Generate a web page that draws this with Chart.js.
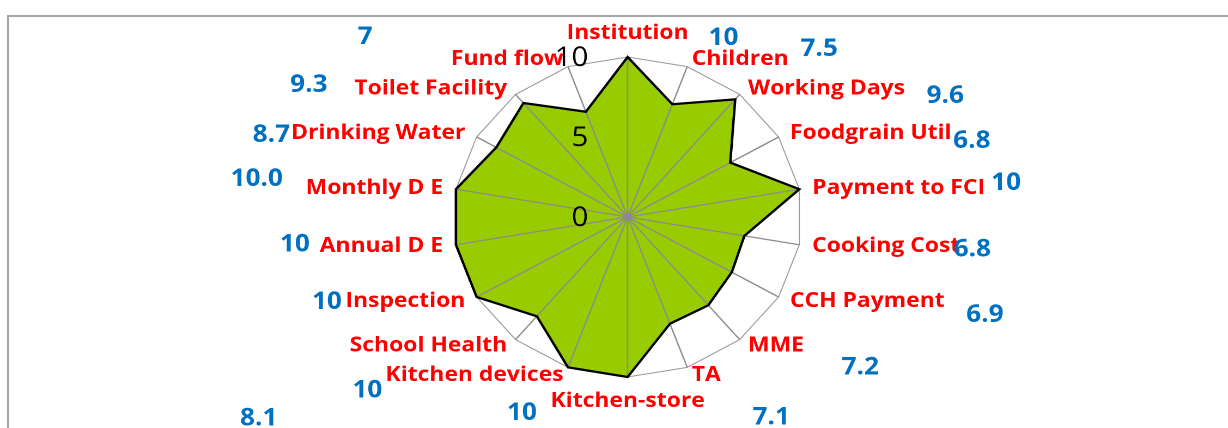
<!DOCTYPE html>
<html>
<head>
<meta charset="utf-8">
<script src="https://cdn.jsdelivr.net/npm/chart.js@4"></script>
<style>
  html, body { margin: 0; padding: 0; background: #fff; overflow: hidden; }
  #frame {
    position: absolute; left: 7px; top: 15px; width: 1300px; height: 500px;
    border-top: 2px solid #a6a6a6; border-left: 2px solid #a6a6a6;
  }
  /* the reference is a little wider than tall, so the chart is stretched sideways */
  #wrap {
    position: absolute; left: 0; top: 0; width: 1127px; height: 428px;
    transform: scaleX(1.0896); transform-origin: 0 0;
  }
</style>
</head>
<body>
<div id="frame"></div>
<div id="wrap"><canvas id="radar"></canvas></div>
<script>
// categories, clockwise from the top
const categories = [
  "Institution", "Children", "Working Days", "Foodgrain Util", "Payment to FCI",
  "Cooking Cost", "CCH Payment", "MME", "TA", "Kitchen-store",
  "Kitchen devices", "School Health", "Inspection", "Annual D E", "Monthly D E",
  "Drinking Water", "Toilet Facility", "Fund flow"
];

// scores
const scores = [10, 7.5, 9.6, 6.8, 10, 6.8, 6.9, 7.2, 7.1, 10, 10, 8.1, 10, 10, 10, 8.7, 9.3, 7];

// blue numbers as printed next to the labels
const scoreLabels = ["10", "7.5", "9.6", "6.8", "10", "6.8", "6.9", "7.2", "7.1", "10",
                     "10", "8.1", "10", "10", "10.0", "8.7", "9.3", "7"];

// radial tick labels
const tickValues = [0, 5, 10];

// where each blue number sits relative to its category label anchor
const scoreLabelOffsets = [
  [88, -7], [117, -6], [181, 11], [167, 10], [178, -4], [147, 3], [179, 12], [103, 19], [73, 39],
  [-97, 24], [-180, 12], [-228, 70], [-127, -1], [-136, -2], [-171, -8], [-178, 4], [-182, 0], [-182, -18]
];

const LABEL_PAD = 12;

const radarDecor = {
  id: "radarDecor",
  // spokes go over the green fill but under the black outline
  afterDatasetDraw(chart, args) {
    if (args.index !== 1) return;
    const r = chart.scales.r;
    const ctx = chart.ctx;
    const outer = r.getDistanceFromCenterForValue(r.max);
    ctx.save();
    ctx.strokeStyle = "#8c8c8c";
    ctx.lineWidth = 1.3;
    categories.forEach((c, i) => {
      const p = r.getPointPosition(i, outer);
      ctx.beginPath();
      ctx.moveTo(r.xCenter, r.yCenter);
      ctx.lineTo(p.x, p.y);
      ctx.stroke();
    });
    ctx.restore();
  },
  afterDraw(chart) {
    const r = chart.scales.r;
    const ctx = chart.ctx;
    ctx.save();
    ctx.textBaseline = "middle";

    // tick labels left of the vertical spoke
    ctx.font = '27px "Open Sans"';
    ctx.fillStyle = "#000";
    ctx.textAlign = "right";
    tickValues.forEach(v => {
      const d = r.getDistanceFromCenterForValue(v);
      ctx.fillText(String(v), r.xCenter - 36, r.yCenter - d + 1.5);
    });

    // category labels + blue scores
    const dist = r.getDistanceFromCenterForValue(r.max) + LABEL_PAD;
    categories.forEach((name, i) => {
      const p = r.getPointPosition(i, dist);
      const deg = i * 360 / categories.length;
      let y = p.y;
      if (deg === 0) y -= 12;
      else if (deg === 180) y += 12;
      else y += 4 * Math.cos(deg * Math.PI / 180);
      ctx.font = 'bold 21px "Open Sans"';
      ctx.fillStyle = "#ff0000";
      ctx.textAlign = (deg === 0 || deg === 180) ? "center" : (deg < 180 ? "left" : "right");
      ctx.fillText(name, p.x, y);

      const [dx, dy] = scoreLabelOffsets[i];
      ctx.font = 'bold 24px "Open Sans"';
      ctx.fillStyle = "#0070c0";
      ctx.textAlign = "center";
      ctx.fillText(scoreLabels[i], p.x + dx, p.y + dy);
    });
    ctx.restore();
  }
};

new Chart(document.getElementById("radar"), {
  type: "radar",
  data: {
    labels: categories,
    datasets: [
      {
        // outline, drawn last
        data: scores,
        fill: false,
        borderColor: "#000",
        borderWidth: 2.3,
        backgroundColor: "rgba(0,0,0,0)",
        pointRadius: 0
      },
      {
        // green area
        data: scores,
        fill: true,
        backgroundColor: "#99cc00",
        borderWidth: 0,
        borderColor: "rgba(0,0,0,0)",
        pointRadius: 0
      }
    ]
  },
  options: {
    responsive: true,
    maintainAspectRatio: false,
    animation: false,
    devicePixelRatio: 2,
    layout: { padding: { top: 57, bottom: 51, left: 25, right: 0 } },
    scales: {
      r: {
        min: 0,
        max: 10,
        ticks: { stepSize: 5, display: false },
        angleLines: { display: false },
        grid: {
          color: ctx => ctx.tick && ctx.tick.value === 10 ? "#9a9a9a" : "rgba(0,0,0,0)",
          lineWidth: 1
        },
        pointLabels: { display: false }
      }
    },
    plugins: {
      legend: { display: false },
      tooltip: { enabled: false }
    }
  },
  plugins: [radarDecor]
});
</script>
</body>
</html>
